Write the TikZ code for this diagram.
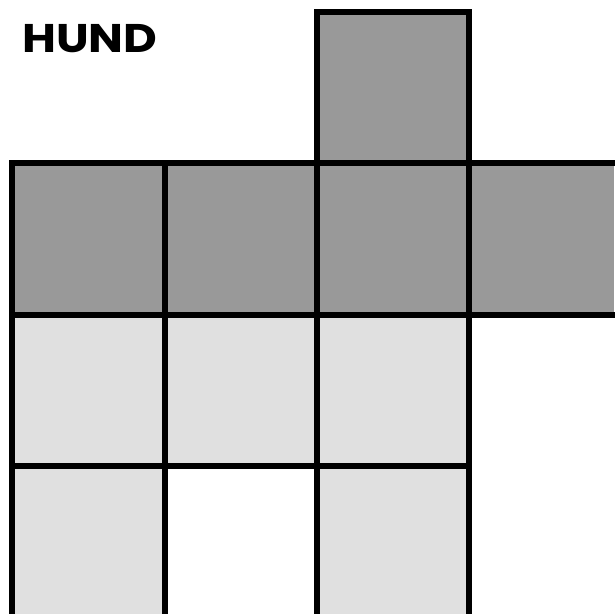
\documentclass[tikz,border=0pt]{standalone}
\usepackage{fontspec}
\newfontfamily\titlefont{Poppins}
\begin{document}
\begin{tikzpicture}[x=1pt,y=-1pt,
  darkcell/.style={fill=black!40},
  lightcell/.style={fill=black!12},
  gridline/.style={line width=6pt,line cap=rect,draw=black}]
\useasboundingbox (0,0) rectangle (614,614);
\fill[white] (0,0) rectangle (614,614);
% dark cells
\fill[darkcell] (317,12) rectangle (469,163);
\fill[darkcell] (12,163) rectangle (614,315);
% light cells
\fill[lightcell] (12,315) rectangle (469,466);
\fill[lightcell] (12,466) rectangle (165,614);
\fill[lightcell] (317,466) rectangle (469,614);
% grid lines
\draw[gridline] (317,12) -- (469,12);
\draw[gridline] (12,163) -- (614,163);
\draw[gridline] (12,315) -- (614,315);
\draw[gridline] (12,466) -- (469,466);
\draw[gridline] (12,163) -- (12,614);
\draw[gridline] (165,163) -- (165,614);
\draw[gridline] (317,12) -- (317,614);
\draw[gridline] (469,12) -- (469,614);
% title
\node[anchor=base west,inner sep=0pt,font=\titlefont\bfseries\fontsize{40}{40}\selectfont,xscale=1.16] (title) at (22,52) {HUND};
\end{tikzpicture}
\end{document}
